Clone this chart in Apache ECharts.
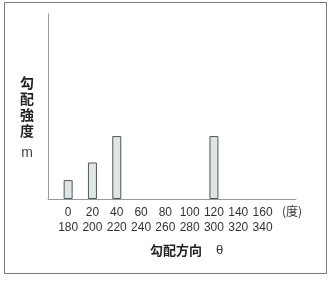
<!DOCTYPE html>
<html><head><meta charset="utf-8">
<script src="https://cdn.jsdelivr.net/npm/echarts@6/dist/echarts.min.js"></script>
<style>html,body{margin:0;padding:0;background:#fff}#c{width:333px;height:285px}</style>
</head><body><div id="c"></div>
<script>
const categories = ['0','20','40','60','80','100','120','140','160'];
const categories2 = ['180','200','220','240','260','280','300','320','340'];
const values = [1.5, 2.9, 5, 0, 0, 0, 5, 0, 0];
const yMax = 14.7;
const unitLabel = '(度)';
const yTitle = '勾\n配\n強\n度';
const yUnit = 'm';
const xTitle = '勾配方向';
const xSymbol = 'θ';

const font = '"Liberation Sans", Arial, "Noto Sans CJK JP", sans-serif';
const chart = echarts.init(document.getElementById('c'), null, {renderer: 'canvas'});
chart.setOption({
  animation: false,
  grid: [
    {left: 48, right: 37, top: 14, bottom: 86},
    {left: 56, right: 58.3, top: 14, bottom: 86}
  ],
  xAxis: [
    {gridIndex: 0, type: 'value', min: 0, max: 1, axisLine: {show: true, lineStyle: {color: '#999', width: 1}},
     axisTick: {show: false}, axisLabel: {show: false}, splitLine: {show: false}},
    {gridIndex: 1, type: 'category', data: categories.map((c, i) => c + '\n' + categories2[i]),
     axisLine: {show: false}, axisTick: {show: false},
     axisLabel: {interval: 0, color: '#333', fontSize: 12, fontFamily: font, lineHeight: 15, margin: 6}}
  ],
  yAxis: [
    {gridIndex: 0, type: 'value', min: 0, max: yMax, axisLine: {show: true, lineStyle: {color: '#999', width: 1}},
     axisTick: {show: false}, axisLabel: {show: false}, splitLine: {show: false}},
    {gridIndex: 1, type: 'value', min: 0, max: yMax, show: false, splitLine: {show: false}}
  ],
  series: [{
    type: 'bar', xAxisIndex: 1, yAxisIndex: 1,
    data: values.map(v => v === 0 ? {value: v, itemStyle: {borderWidth: 0, opacity: 0}} : v),
    barWidth: 9,
    itemStyle: {color: '#dfe4e7', borderColor: '#555', borderWidth: 1}
  }],
  graphic: [
    {type: 'rect', shape: {x: 4.5, y: 2.5, width: 322, height: 271}, style: {fill: 'none', stroke: '#777', lineWidth: 1}},
    {type: 'text', x: 27, y: 75, style: {text: yTitle, font: 'bold 14px "Noto Sans CJK JP"', fill: '#222', textAlign: 'center', lineHeight: 16}},
    {type: 'text', x: 27, y: 146, style: {text: yUnit, font: '14px "Liberation Sans"', fill: '#444', textAlign: 'center'}},
    {type: 'text', x: 292, y: 205, style: {text: unitLabel, font: '12px "Noto Sans CJK JP"', fill: '#333', textAlign: 'center'}},
    {type: 'text', x: 150, y: 244, style: {text: xTitle, font: 'bold 13px "Noto Sans CJK JP"', fill: '#222'}},
    {type: 'text', x: 216, y: 244, style: {text: xSymbol, font: '13px "Liberation Sans"', fill: '#333'}}
  ]
});
</script></body></html>
